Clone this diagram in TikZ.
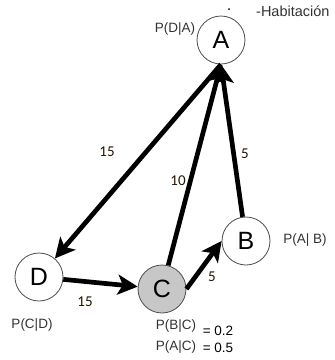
\documentclass[tikz,border=0pt]{standalone}
\usepackage{fontspec}
\setmainfont{Liberation Sans}
\newfontfamily\numfont{Carlito}
\usetikzlibrary{arrows.meta}
\begin{document}
\begin{tikzpicture}[x=1pt,y=-1pt,
  state/.style={circle,draw=black!70,line width=0.8pt,fill=white,minimum size=48pt,inner sep=0pt,font=\fontsize{25}{25}\selectfont},
  edge/.style={line width=4.7pt,-{Stealth[length=20pt,width=20pt,inset=5pt]}},
  wlabel/.style={font=\numfont\fontsize{15}{15}\selectfont,text=black!85!orange},
  plabel/.style={font=\fontsize{13.5}{13.5}\selectfont,text=black!80,inner sep=0pt}]
\useasboundingbox (0,0) rectangle (335,360);
\node[state] (A) at (221,40) {A};
\node[state] (B) at (246,241) {B};
\node[state] (D) at (39,277) {D};
\node[state,fill=black!22] (C) at (162,289) {C};
\draw[edge] (C) -- (A.south);
\draw[edge] (B) -- (A.south);
\draw[edge] (A.south) -- (D);
\draw[edge] (D) -- (C);
\draw[edge] (C.east) -- (B.west);
\node[wlabel] (w1) at (107,152) {15};
\node[wlabel] (w2) at (178,181) {10};
\node[wlabel] (w3) at (245,154) {5};
\node[wlabel] (w4) at (85,302) {15};
\node[wlabel] (w5) at (212,277) {5};
\node[plabel] (p1) at (175,29) {P(D|A)};
\node[plabel,anchor=west,font=\fontsize{14.5}{14.5}\selectfont] (hab) at (256,11) {-Habitación};
\fill[black] (229,9) circle (1pt);
\node[plabel] (p2) at (305,240) {P(A| B)};
\node[plabel] (p3) at (32,325) {P(C|D)};
\node[plabel] (p4) at (176,326) {P(B|C)};
\node[plabel,text=black] (p5) at (218,331) {= 0.2};
\node[plabel] (p6) at (176,347) {P(A|C)};
\node[plabel,text=black] (p7) at (218,348) {= 0.5};
\end{tikzpicture}
\end{document}
